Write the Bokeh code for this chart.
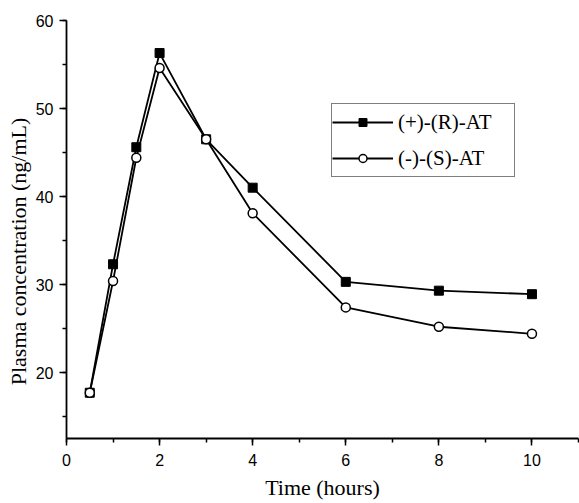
from bokeh.plotting import figure
from bokeh.models import Range1d, SingleIntervalTicker, Legend
from bokeh.embed import file_html
from bokeh.resources import INLINE

# Data
time_h = [0.5, 1, 1.5, 2, 3, 4, 6, 8, 10]
r_at = [17.7, 32.3, 45.6, 56.3, 46.5, 41.0, 30.3, 29.3, 28.9]
s_at = [17.7, 30.4, 44.4, 54.6, 46.5, 38.1, 27.4, 25.2, 24.4]
series_labels = ["(+)-(R)-AT", "(-)-(S)-AT"]
x_title = "Time (hours)"
y_title = "Plasma concentration (ng/mL)"

SERIF = "Liberation Serif"
SANS = "Liberation Sans"

p = figure(
    output_backend="svg", toolbar_location=None,
    frame_width=512, frame_height=418,
    min_border_left=66, min_border_right=1, min_border_top=20, min_border_bottom=65,
    x_range=Range1d(0, 11), y_range=Range1d(12.5, 60),
    background_fill_color="white", border_fill_color="white",
)
p.outline_line_color = None
p.grid.visible = False

for ax in (p.xaxis[0], p.yaxis[0]):
    ax.axis_line_width = 1.8
    ax.axis_line_color = "black"
    ax.major_tick_line_width = 1.5
    ax.minor_tick_line_width = 1.5
    ax.major_tick_in = 0
    ax.major_tick_out = 7
    ax.minor_tick_in = 0
    ax.minor_tick_out = 4
    ax.major_label_text_font = SANS
    ax.major_label_text_font_size = "16px"
    ax.major_label_text_color = "black"
    ax.axis_label_text_font = SERIF
    ax.axis_label_text_font_size = "22px"
    ax.axis_label_text_font_style = "normal"
    ax.axis_label_text_color = "black"

p.xaxis[0].ticker = SingleIntervalTicker(interval=2, num_minor_ticks=2)
p.yaxis[0].ticker = SingleIntervalTicker(interval=10, num_minor_ticks=2)
p.xaxis[0].major_label_standoff = 8
p.yaxis[0].major_label_standoff = 6
p.xaxis[0].axis_label = x_title
p.xaxis[0].axis_label_standoff = 6
# trailing no-break spaces shift the visible title toward the bottom, as in the reference
p.yaxis[0].axis_label = y_title + "\u00a0" * 8
p.yaxis[0].axis_label_standoff = 2

r_line = p.line(time_h, r_at, line_width=1.8, line_color="black")
r_pts = p.scatter(time_h, r_at, marker="square", size=9, fill_color="black",
                  line_color="black", line_width=1)
s_line = p.line(time_h, s_at, line_width=1.8, line_color="black")
s_pts = p.scatter(time_h, s_at, marker="circle", size=9, fill_color="white",
                  line_color="black", line_width=1.5)

legend = Legend(
    items=[(series_labels[0], [r_line, r_pts]), (series_labels[1], [s_line, s_pts])],
    location=(265, 261), margin=0, padding=0, spacing=0,
    glyph_width=61, glyph_height=20, label_height=36, label_width=116,
    label_standoff=5,
    label_text_font=SERIF, label_text_font_size="21px", label_text_color="black",
    border_line_color="black", border_line_width=1.5,
    background_fill_color="white", background_fill_alpha=1,
)
p.add_layout(legend)

open("out.html", "w").write(file_html(p, INLINE))
